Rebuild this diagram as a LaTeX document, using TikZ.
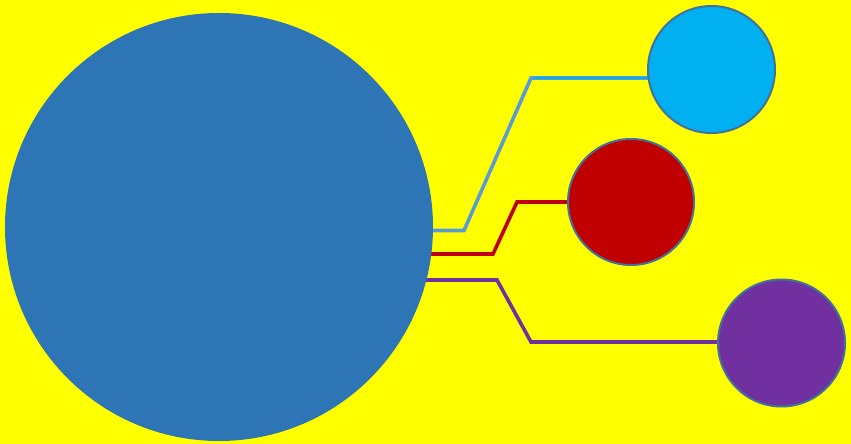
\documentclass[tikz,border=0pt]{standalone}
\usetikzlibrary{backgrounds}
\definecolor{bgyellow}{HTML}{FFFF00}
\definecolor{bigblue}{HTML}{2E75B6}
\definecolor{ringblue}{HTML}{41719C}
\definecolor{skyblue}{HTML}{00B0F0}
\definecolor{lineblue}{HTML}{5B9BD5}
\definecolor{darkred}{HTML}{C00000}
\definecolor{violet}{HTML}{7030A0}
\tikzset{
  ball/.style={circle, draw=ringblue, line width=2pt, inner sep=0pt, minimum size=#1},
  link/.style={line width=3.6pt, line join=miter},
}
\begin{document}
\begin{tikzpicture}[x=1pt,y=-1pt]
\useasboundingbox (0,0) rectangle (851,444);
\node[ball=426pt, fill=bigblue, draw=bigblue] (big) at (219,227) {};
\node[ball=127pt, fill=skyblue] (cy) at (711.5,69.5) {};
\node[ball=126pt, fill=darkred] (rd) at (631,202) {};
\node[ball=127pt, fill=violet] (pu) at (781.5,343) {};
\coordinate (c1) at (464,230.5);
\coordinate (c2) at (531,78);
\coordinate (r1) at (493,254);
\coordinate (r2) at (517,202);
\coordinate (p1) at (497,280);
\coordinate (p2) at (531,342);
\begin{scope}[on background layer]
  \fill[bgyellow] (0,0) rectangle (851,444);
  \draw[link, lineblue] (big.center |- c1) -- (c1) -- (c2) -- (cy.center |- c2);
  \draw[line width=1.8pt, skyblue] (c2) ++(2,0) -- (cy.center |- c2);
  \draw[link, darkred] (big.center |- r1) -- (r1) -- (r2) -- (rd.center);
  \draw[link, violet] (big.center |- p1) -- (p1) -- (p2) -- (pu.center |- p2);
\end{scope}
\end{tikzpicture}
\end{document}
